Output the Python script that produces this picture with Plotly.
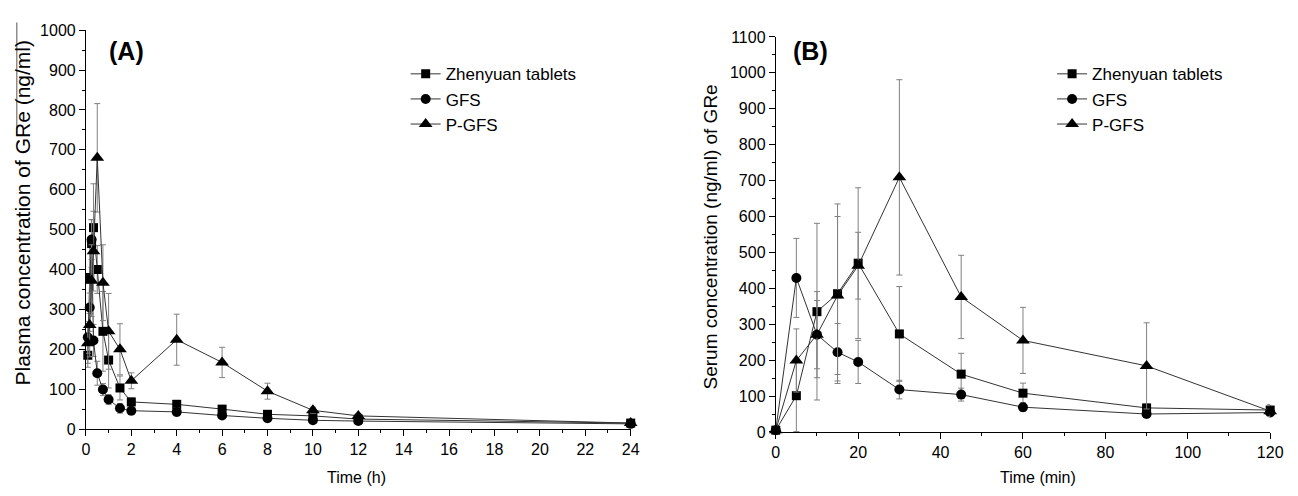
import plotly.graph_objects as go

# ---------------- Panel A data (time in h) ----------------
time_a = [0.083, 0.167, 0.25, 0.333, 0.5, 0.75, 1, 1.5, 2, 4, 6, 8, 10, 12, 24]
zhen_a = [185, 380, 465, 505, 400, 245, 173, 103, 68, 62, 50, 37, 33, 25, 15]
zhen_a_err = [30, 90, 60, 110, 60, 100, 70, 30, 10, 10, 8, 6, 5, 5, 3]
gfs_a = [230, 305, 475, 222, 140, 99, 74, 52, 46, 43, 34, 27, 22, 20, 13]
gfs_a_err = [40, 60, 50, 40, 30, 15, 12, 12, 10, 10, 8, 6, 5, 5, 3]
pgfs_a = [215, 261, 372, 446, 680, 367, 245, 200, 121, 224, 167, 95, 47, 33, 15]
pgfs_a_err = [50, 80, 90, 100, 136, 95, 95, 64, 20, 64, 38, 20, 8, 6, 3]

# ---------------- Panel B data (time in min) ----------------
time_b = [0, 5, 10, 15, 20, 30, 45, 60, 90, 120]
zhen_b = [5, 101, 335, 385, 470, 273, 161, 108, 67, 61]
zhen_b_err = [0, 100, 246, 250, 210, 132, 58, 28, 10, 15]
gfs_b = [5, 429, 271, 222, 195, 118, 104, 69, 50, 54]
gfs_b_err = [0, 110, 120, 80, 60, 26, 18, 12, 10, 10]
pgfs_b = [5, 199, 271, 380, 463, 709, 376, 255, 184, 58]
pgfs_b_err = [0, 88, 95, 220, 93, 272, 116, 92, 120, 15]

names = ["Zhenyuan tablets", "GFS", "P-GFS"]
symbols = ["square", "circle", "triangle-up"]
msizes = [9, 10, 12]

fig = go.Figure()

def add_series(x, y, err, name, sym, ms, xa, ya, legend):
    fig.add_trace(go.Scatter(
        x=x, y=y, name=name, mode="lines+markers", showlegend=False,
        line=dict(color="#333333", width=1),
        marker=dict(symbol=sym, color="black", size=ms),
        error_y=dict(type="data", array=err, visible=True, color="#808080",
                     thickness=1, width=3),
        xaxis=xa, yaxis=ya, cliponaxis=False,
    ))
    # legend entry without error bars
    fig.add_trace(go.Scatter(
        x=[None], y=[None], name=name, mode="lines+markers", showlegend=True,
        line=dict(color="#333333", width=1),
        marker=dict(symbol=sym, color="black", size=ms),
        xaxis=xa, yaxis=ya, legend=legend,
    ))

for y, e, n, s, m in zip([zhen_a, gfs_a, pgfs_a], [zhen_a_err, gfs_a_err, pgfs_a_err], names, symbols, msizes):
    add_series(time_a, y, e, n, s, m, "x", "y", "legend")
for y, e, n, s, m in zip([zhen_b, gfs_b, pgfs_b], [zhen_b_err, gfs_b_err, pgfs_b_err], names, symbols, msizes):
    add_series(time_b, y, e, n, s, m, "x2", "y2", "legend2")

W, H = 1298, 496
FAM = "Liberation Sans, Arial, sans-serif"
font = dict(family=FAM, color="black")

axis_common = dict(
    showline=True, linecolor="black", linewidth=1, mirror=False,
    showgrid=False, zeroline=False, ticks="outside", ticklen=6, tickwidth=1,
    tickcolor="black", tickfont=dict(size=16, **font),
    minor=dict(ticks="outside", ticklen=3, tickcolor="black", tickwidth=1),
)

fig.update_layout(
    width=W, height=H,
    margin=dict(l=0, r=0, t=0, b=0),
    paper_bgcolor="white", plot_bgcolor="white",
    font=font,
    xaxis=dict(domain=[83 / W, 635 / W], range=[0, 24], tickvals=list(range(0, 25, 2)),
               minor_dtick=1, anchor="y", **axis_common),
    yaxis=dict(domain=[1 - 436 / H, 1 - 23 / H], range=[0, 1000], dtick=100,
               minor_dtick=50, anchor="x", **axis_common),
    xaxis2=dict(domain=[782 / W, 1283 / W], range=[0, 120], dtick=20,
                minor_dtick=10, anchor="y2", **axis_common),
    yaxis2=dict(domain=[1 - 439 / H, 1 - 30 / H], range=[0, 1100], dtick=100,
                minor_dtick=50, anchor="x2", **axis_common),
    legend=dict(x=407 / W, y=1 - 50 / H, xanchor="left", yanchor="top",
                bgcolor="rgba(0,0,0,0)", font=dict(size=17, **font),
                tracegroupgap=0),
    legend2=dict(x=1062 / W, y=1 - 50 / H, xanchor="left", yanchor="top",
                 bgcolor="rgba(0,0,0,0)", font=dict(size=17, **font),
                 tracegroupgap=0),
    showlegend=True,
    shapes=[dict(type="line", xref="paper", yref="paper",
                 x0=13 / W, x1=13 / W, y0=1 - 15 / H, y1=1 - 125 / H,
                 line=dict(color="#555555", width=1))],
)

ann = [
    dict(text="<b>(A)</b>", x=104 / W, y=1 - 45 / H, xanchor="left", yanchor="middle",
         font=dict(size=25, **font)),
    dict(text="<b>(B)</b>", x=797 / W, y=1 - 45 / H, xanchor="left", yanchor="middle",
         font=dict(size=25, **font)),
    dict(text="Time (h)", x=357 / W, y=1 - 486 / H, xanchor="center", yanchor="middle",
         font=dict(size=16, **font)),
    dict(text="Time (min)", x=1048 / W, y=1 - 486 / H, xanchor="center", yanchor="middle",
         font=dict(size=16, **font)),
    dict(text="Plasma concentration of GRe (ng/ml)", x=19 / W, y=1 - 212 / H,
         xanchor="center", yanchor="middle", textangle=-90, font=dict(size=21, **font)),
    dict(text="Serum concentration (ng/ml) of GRe", x=716 / W, y=1 - 237 / H,
         xanchor="center", yanchor="middle", textangle=-90, font=dict(size=19, **font)),
]
for a in ann:
    a.update(xref="paper", yref="paper", showarrow=False)
fig.update_layout(annotations=ann)

fig.write_html("out.html")
